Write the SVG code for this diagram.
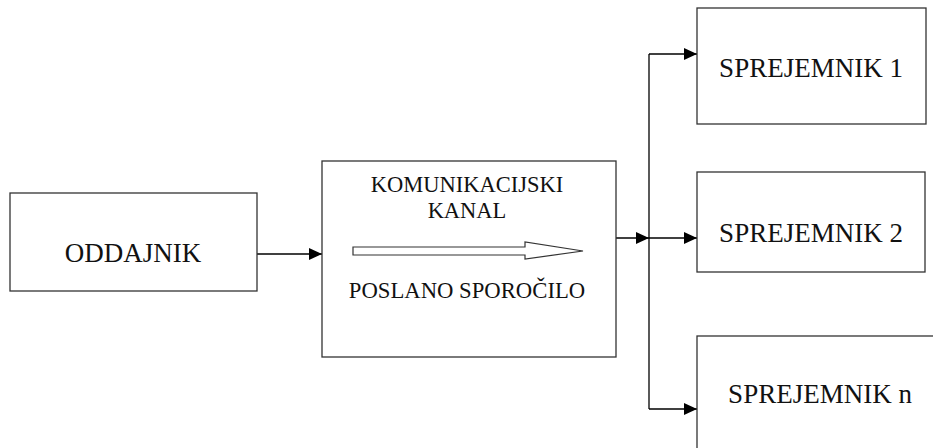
<svg xmlns="http://www.w3.org/2000/svg" width="933" height="448" viewBox="0 0 933 448">
<defs>
<marker id="ah" markerWidth="13" markerHeight="12" refX="13" refY="6" orient="auto" markerUnits="userSpaceOnUse">
<path d="M0,0 L13,6 L0,12 Z" fill="#000"/>
</marker>
<style>
.box{fill:#fff;stroke:#333;stroke-width:1.3}
.t{font-family:"Liberation Serif","Times New Roman",serif;fill:#111;text-anchor:middle}
.big{font-size:27px}
.sm{font-size:22.5px}
.c{fill:none;stroke:#000;stroke-width:1.3}
</style>
</defs>
<rect width="933" height="448" fill="#fff"/>
<g id="connectors">
<line class="c" x1="257" y1="254" x2="322" y2="254" marker-end="url(#ah)"/>
<line class="c" x1="616" y1="238" x2="649" y2="238" marker-end="url(#ah)"/>
<polyline class="c" points="649,54 649,409"/>
<line class="c" x1="649" y1="54" x2="697" y2="54" marker-end="url(#ah)"/>
<line class="c" x1="649" y1="238" x2="697" y2="238" marker-end="url(#ah)"/>
<line class="c" x1="649" y1="409" x2="697" y2="409" marker-end="url(#ah)"/>
</g>
<g id="oddajnik">
<rect class="box" x="10" y="193" width="247" height="98"/>
<text class="t big" x="133" y="262">ODDAJNIK</text>
</g>
<g id="kanal">
<rect class="box" x="322" y="161" width="294" height="196"/>
<text class="t sm" x="467" y="192">KOMUNIKACIJSKI</text>
<text class="t sm" x="467" y="218">KANAL</text>
<path d="M353,247 L525,247 L525,242 L583,251 L525,259 L525,255 L353,255 Z" fill="#fff" stroke="#333" stroke-width="1.2"/>
<text class="t" style="font-size:22.7px" x="467" y="298">POSLANO SPOROČILO</text>
</g>
<g id="sprejemnik1">
<rect class="box" x="697" y="8" width="229" height="116"/>
<text class="t big" x="811" y="77">SPREJEMNIK 1</text>
</g>
<g id="sprejemnik2">
<rect class="box" x="697" y="172" width="228" height="100"/>
<text class="t big" x="811" y="242">SPREJEMNIK 2</text>
</g>
<g id="sprejemnikn">
<rect class="box" x="697" y="336" width="250" height="130"/>
<text class="t big" x="820" y="403">SPREJEMNIK n</text>
</g>
</svg>
